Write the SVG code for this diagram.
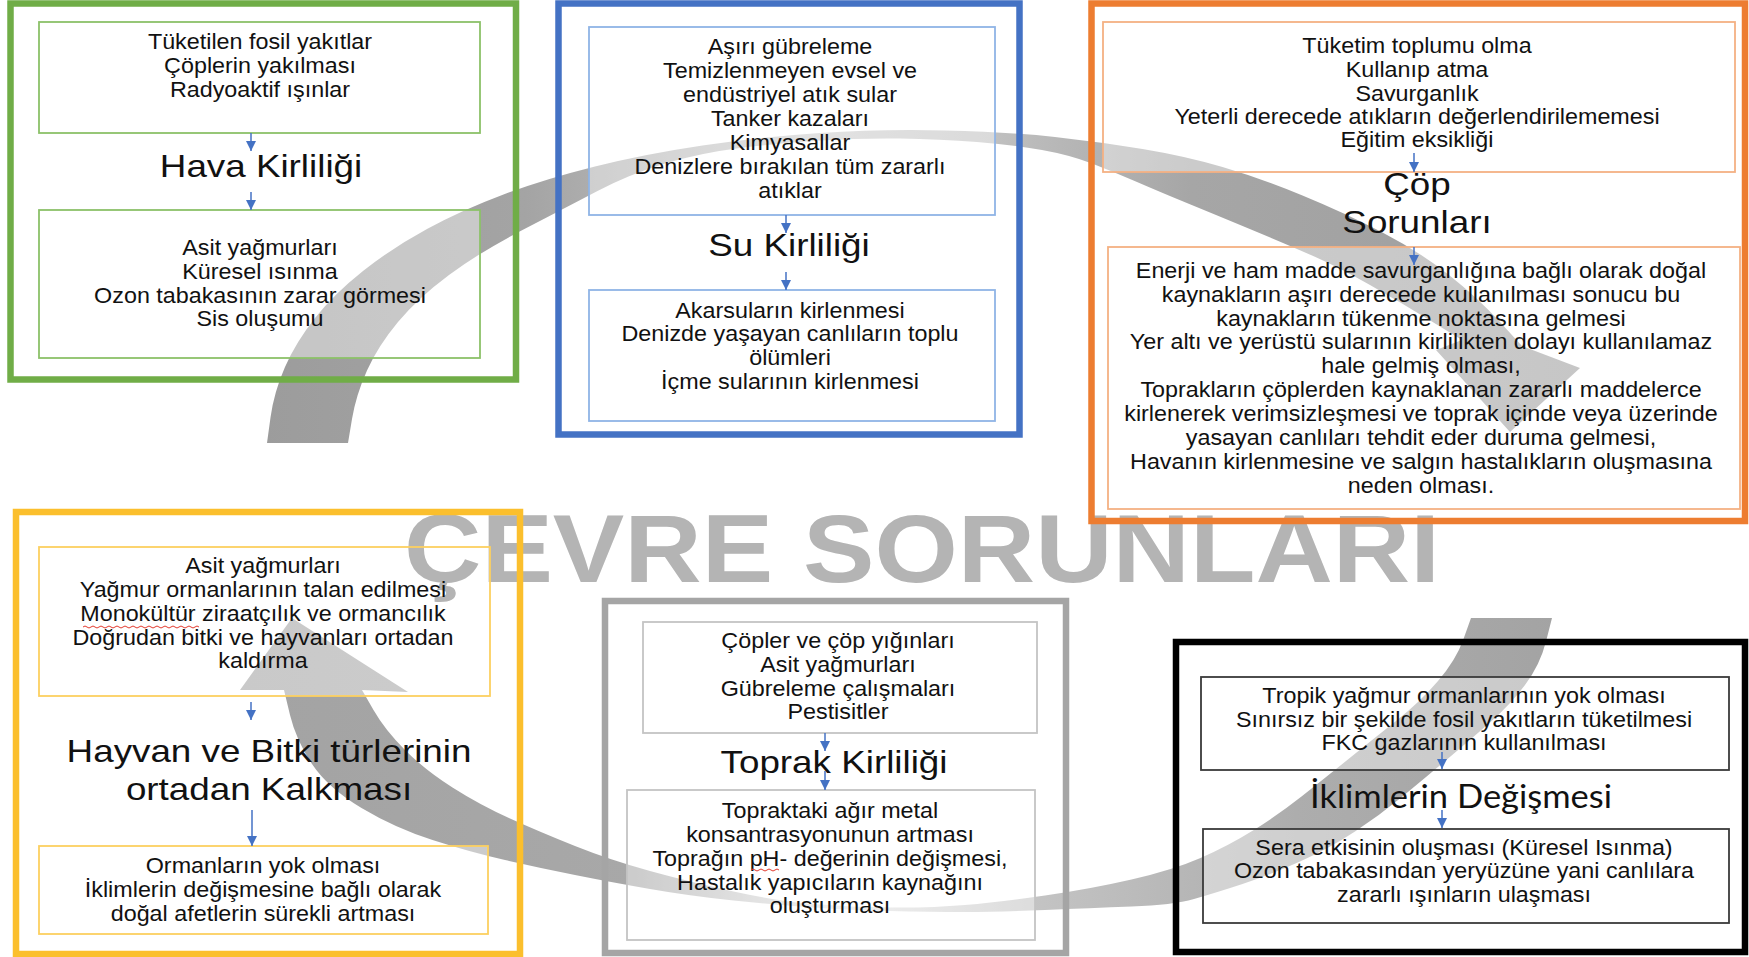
<svg xmlns="http://www.w3.org/2000/svg" width="1749" height="957" viewBox="0 0 1749 957">
<style>
.ob{fill:none;stroke-width:6.5}
.ib{fill:none;stroke-width:1.8}
.fl{fill:#fff;fill-opacity:.42;stroke:none}
.t{font-family:"Liberation Sans",Arial,Helvetica,sans-serif;font-size:21.5px;fill:#111;text-anchor:middle}
.h{font-family:"Liberation Sans",Arial,Helvetica,sans-serif;font-size:32px;fill:#111;text-anchor:middle}
.cn line{stroke:#4472c4;stroke-width:1.5;marker-end:url(#ah)}
.sq{fill:none;stroke:#e23a2e;stroke-width:1}
</style>
<defs>
<marker id="ah" markerWidth="11" markerHeight="10" refX="10" refY="5" orient="auto" markerUnits="userSpaceOnUse"><path d="M0,0 L10,5 L0,10 z" fill="#4472c4"/></marker>
<linearGradient id="gU" gradientUnits="userSpaceOnUse" x1="260" y1="0" x2="1590" y2="0">
<stop offset="0" stop-color="#9c9c9c"/><stop offset="0.2" stop-color="#a4a4a4"/><stop offset="0.42" stop-color="#cdcdcd"/><stop offset="0.55" stop-color="#c0c0c0"/><stop offset="0.7" stop-color="#a6a6a6"/><stop offset="1" stop-color="#9e9e9e"/>
</linearGradient>
<linearGradient id="gL" gradientUnits="userSpaceOnUse" x1="240" y1="0" x2="1560" y2="0">
<stop offset="0" stop-color="#a3a3a3"/><stop offset="0.3" stop-color="#a8a8a8"/><stop offset="0.45" stop-color="#e6e6e6"/><stop offset="0.6" stop-color="#c4c4c4"/><stop offset="0.8" stop-color="#adadad"/><stop offset="1" stop-color="#a3a3a3"/>
</linearGradient>
</defs>
<rect width="1749" height="957" fill="#fff"/>

<g id="swooshes">
<path fill="url(#gU)" d="M267,443 L270.5,417.5 Q274,392 285,367 Q296,342 315,318 Q334,294 363,271 Q392,248 427,229 Q462,210 503.5,194.5 Q545,179 595,166.5 Q645,154 702.5,145.5 Q760,137 820,133 Q880,129 945,130.5 Q1010,132 1055,137 Q1100,142 1142.5,149 Q1185,156 1222.5,167 Q1260,178 1302.5,195.5 Q1345,213 1382.5,232.5 Q1420,252 1449,275 Q1478,298 1500,322 L1522,346 L1580,368 L1510,432 L1436,350 L1462,340 L1431,321 Q1400,302 1370,285 Q1340,268 1316.5,257.5 Q1293,247 1257,232 Q1221,217 1190.5,204.5 Q1160,192 1137,182 Q1114,172 1092,163.5 Q1070,155 1042,150 Q1014,145 977,142 Q940,139 900,138.5 Q860,138 820,140.5 Q780,143 740,148 Q700,153 665,163.5 Q630,174 597.5,191 Q565,208 522.5,230 Q480,252 449,275 Q418,298 398,322 Q378,346 367,370.5 Q356,395 352,419 L348,443 Z"/>
<path fill="url(#gL)" d="M1471,618 L1463.5,639 Q1456,660 1438,681 Q1420,702 1396,721 Q1372,740 1348.5,759 Q1325,778 1301.5,796.5 Q1278,815 1253,830.5 Q1228,846 1200.5,858 Q1173,870 1131.5,879.5 Q1090,889 1045,895.5 Q1000,902 965,905 Q930,908 890,907.5 Q850,907 813.5,904 Q777,901 733.5,891.5 Q690,882 650,871 Q610,860 575,846 Q540,832 510,818.5 Q480,805 452.5,787.5 Q425,770 405,750 Q385,730 373.5,710 L362,690 L408,692 L292,618 L240,690 L284,690 L290,715 Q296,740 312,764 Q328,788 361.5,808 Q395,828 432.5,840 Q470,852 505,860 Q540,868 575,875 Q610,882 650,889 Q690,896 733.5,900.5 Q777,905 813.5,907.5 Q850,910 890,911 Q930,912 965,912 Q1000,912 1045,910 Q1090,908 1131.5,906.5 Q1173,905 1194,899 Q1215,893 1242.5,884 Q1270,875 1300,861.5 Q1330,848 1355,831.5 Q1380,815 1402.5,796.5 Q1425,778 1447.5,759 Q1470,740 1490,722.5 Q1510,705 1525,685 Q1540,665 1546,641.5 L1552,618 Z"/>
</g>

<g id="box-fills">
<rect class="fl" x="39" y="22" width="441" height="111"/>
<rect class="fl" x="39" y="210" width="441" height="148"/>
<rect class="fl" x="589" y="27" width="406" height="188"/>
<rect class="fl" x="589" y="290" width="406" height="131"/>
<rect class="fl" x="1103" y="22" width="632" height="150"/>
<rect class="fl" x="1108" y="247" width="632" height="262"/>
<rect class="fl" x="39" y="547" width="451" height="149"/>
<rect class="fl" x="39" y="846" width="449" height="88"/>
<rect class="fl" x="643" y="622" width="394" height="111"/>
<rect class="fl" x="627" y="790" width="408" height="150"/>
<rect class="fl" x="1201" y="677" width="528" height="93"/>
<rect class="fl" x="1203" y="829" width="526" height="94"/>
</g>

<text id="title" x="404" y="582" font-family="'Liberation Sans',Arial,Helvetica,sans-serif" font-weight="bold" font-size="96" fill="#b4b4b4" textLength="1036" lengthAdjust="spacingAndGlyphs">ÇEVRE SORUNLARI</text>

<g id="hava">
<rect class="ob" x="10.5" y="3.5" width="505.5" height="376" stroke="#70ad47"/>
<rect class="ib" x="39" y="22" width="441" height="111" stroke="#8cc169"/>
<rect class="ib" x="39" y="210" width="441" height="148" stroke="#8cc169"/>
<g transform="translate(260,0) scale(1.085,1)">
<text class="t" x="0" y="49">Tüketilen fosil yakıtlar</text>
<text class="t" x="0" y="73">Çöplerin yakılması</text>
<text class="t" x="0" y="97">Radyoaktif ışınlar</text>
</g>
<g transform="translate(261,0) scale(1.15,1)"><text class="h" x="0" y="177">Hava Kirliliği</text></g>
<g transform="translate(260,0) scale(1.085,1)">
<text class="t" x="0" y="255">Asit yağmurları</text>
<text class="t" x="0" y="279">Küresel ısınma</text>
<text class="t" x="0" y="303">Ozon tabakasının zarar görmesi</text>
<text class="t" x="0" y="326">Sis oluşumu</text>
</g>
</g>

<g id="su">
<rect class="ob" x="558.5" y="3.5" width="461" height="431" stroke="#4472c4"/>
<rect class="ib" x="589" y="27" width="406" height="188" stroke="#8fb4e6"/>
<rect class="ib" x="589" y="290" width="406" height="131" stroke="#8fb4e6"/>
<g transform="translate(790,0) scale(1.085,1)">
<text class="t" x="0" y="54">Aşırı gübreleme</text>
<text class="t" x="0" y="78">Temizlenmeyen evsel ve</text>
<text class="t" x="0" y="102">endüstriyel atık sular</text>
<text class="t" x="0" y="126">Tanker kazaları</text>
<text class="t" x="0" y="150">Kimyasallar</text>
<text class="t" x="0" y="174">Denizlere bırakılan tüm zararlı</text>
<text class="t" x="0" y="198">atıklar</text>
</g>
<g transform="translate(789,0) scale(1.15,1)"><text class="h" x="0" y="256">Su Kirliliği</text></g>
<g transform="translate(790,0) scale(1.085,1)">
<text class="t" x="0" y="318">Akarsuların kirlenmesi</text>
<text class="t" x="0" y="341">Denizde yaşayan canlıların toplu</text>
<text class="t" x="0" y="365">ölümleri</text>
<text class="t" x="0" y="389">İçme sularının kirlenmesi</text>
</g>
</g>

<g id="cop">
<rect class="ob" x="1091.5" y="3.5" width="653.5" height="517.5" stroke="#ed7d31"/>
<rect class="ib" x="1103" y="22" width="632" height="150" stroke="#f4b183"/>
<rect class="ib" x="1108" y="247" width="632" height="262" stroke="#f4b183"/>
<g transform="translate(1417,0) scale(1.085,1)">
<text class="t" x="0" y="53">Tüketim toplumu olma</text>
<text class="t" x="0" y="77">Kullanıp atma</text>
<text class="t" x="0" y="101">Savurganlık</text>
<text class="t" x="0" y="124">Yeterli derecede atıkların değerlendirilememesi</text>
<text class="t" x="0" y="147">Eğitim eksikliği</text>
</g>
<g transform="translate(1417,0) scale(1.15,1)">
<text class="h" x="0" y="195">Çöp</text>
<text class="h" x="0" y="233">Sorunları</text>
</g>
<g transform="translate(1421,0) scale(1.085,1)">
<text class="t" x="0" y="278">Enerji ve ham madde savurganlığına bağlı olarak doğal</text>
<text class="t" x="0" y="302">kaynakların aşırı derecede kullanılması sonucu bu</text>
<text class="t" x="0" y="326">kaynakların tükenme noktasına gelmesi</text>
<text class="t" x="0" y="349">Yer altı ve yerüstü sularının kirlilikten dolayı kullanılamaz</text>
<text class="t" x="0" y="373">hale gelmiş olması,</text>
<text class="t" x="0" y="397">Toprakların çöplerden kaynaklanan zararlı maddelerce</text>
<text class="t" x="0" y="421">kirlenerek verimsizleşmesi ve toprak içinde veya üzerinde</text>
<text class="t" x="0" y="445">yasayan canlıları tehdit eder duruma gelmesi,</text>
<text class="t" x="0" y="469">Havanın kirlenmesine ve salgın hastalıkların oluşmasına</text>
<text class="t" x="0" y="493">neden olması.</text>
</g>
</g>

<g id="hayvan">
<rect class="ob" x="16" y="512" width="504" height="442" stroke="#fbbf2d"/>
<rect class="ib" x="39" y="547" width="451" height="149" stroke="#fcd060"/>
<rect class="ib" x="39" y="846" width="449" height="88" stroke="#fcd060"/>
<g transform="translate(263,0) scale(1.085,1)">
<text class="t" x="0" y="573">Asit yağmurları</text>
<text class="t" x="0" y="597">Yağmur ormanlarının talan edilmesi</text>
<text class="t" x="0" y="621">Monokültür ziraatçılık ve ormancılık</text>
<text class="t" x="0" y="645">Doğrudan bitki ve hayvanları ortadan</text>
<text class="t" x="0" y="668">kaldırma</text>
</g>
<path class="sq" d="M83,627 q2,-2 4,0 t4,0 t4,0 t4,0 t4,0 t4,0 t4,0 t4,0 t4,0 t4,0 t4,0 t4,0 t4,0 t4,0 t4,0 t4,0 t4,0 t4,0 t4,0 t4,0 t4,0 t4,0 t4,0 t4,0 t4,0 t4,0 t4,0 t4,0 t4,0"/>
<g transform="translate(269,0) scale(1.15,1)">
<text class="h" x="0" y="762">Hayvan ve Bitki türlerinin</text>
<text class="h" x="0" y="800">ortadan Kalkması</text>
</g>
<g transform="translate(263,0) scale(1.085,1)">
<text class="t" x="0" y="873">Ormanların yok olması</text>
<text class="t" x="0" y="897">İklimlerin değişmesine bağlı olarak</text>
<text class="t" x="0" y="921">doğal afetlerin sürekli artması</text>
</g>
</g>

<g id="toprak">
<rect class="ob" x="605" y="601" width="461" height="352" stroke="#a5a5a5"/>
<rect class="ib" x="643" y="622" width="394" height="111" stroke="#c4c4c4"/>
<rect class="ib" x="627" y="790" width="408" height="150" stroke="#c4c4c4"/>
<g transform="translate(838,0) scale(1.085,1)">
<text class="t" x="0" y="648">Çöpler ve çöp yığınları</text>
<text class="t" x="0" y="672">Asit yağmurları</text>
<text class="t" x="0" y="696">Gübreleme çalışmaları</text>
<text class="t" x="0" y="719">Pestisitler</text>
</g>
<g transform="translate(834,0) scale(1.15,1)"><text class="h" x="0" y="773">Toprak Kirliliği</text></g>
<g transform="translate(830,0) scale(1.085,1)">
<text class="t" x="0" y="818">Topraktaki ağır metal</text>
<text class="t" x="0" y="842">konsantrasyonunun artması</text>
<text class="t" x="0" y="866">Toprağın pH- değerinin değişmesi,</text>
<text class="t" x="0" y="890">Hastalık yapıcıların kaynağını</text>
<text class="t" x="0" y="913">oluşturması</text>
</g>
<path class="sq" d="M751,870 q2,-2 4,0 t4,0 t4,0 t4,0 t4,0 t4,0 t4,0"/>
</g>

<g id="iklim">
<rect class="ob" x="1176" y="642" width="569" height="310" stroke="#000"/>
<rect class="ib" x="1201" y="677" width="528" height="93" stroke="#3a3a3a"/>
<rect class="ib" x="1203" y="829" width="526" height="94" stroke="#3a3a3a"/>
<g transform="translate(1464,0) scale(1.085,1)">
<text class="t" x="0" y="703">Tropik yağmur ormanlarının yok olması</text>
<text class="t" x="0" y="727">Sınırsız bir şekilde fosil yakıtların tüketilmesi</text>
<text class="t" x="0" y="750">FKC gazlarının kullanılması</text>
</g>
<text x="1310" y="808" font-family="Lato,'Open Sans',sans-serif" font-size="33" fill="#111" textLength="302" lengthAdjust="spacingAndGlyphs">İklimlerin Değişmesi</text>
<g transform="translate(1464,0) scale(1.085,1)">
<text class="t" x="0" y="855">Sera etkisinin oluşması (Küresel Isınma)</text>
<text class="t" x="0" y="878">Ozon tabakasından yeryüzüne yani canlılara</text>
<text class="t" x="0" y="902">zararlı ışınların ulaşması</text>
</g>
</g>

<g id="connectors" class="cn">
<line x1="251" y1="133" x2="251" y2="151"/>
<line x1="251" y1="192" x2="251" y2="210"/>
<line x1="786" y1="215" x2="786" y2="233"/>
<line x1="786" y1="272" x2="786" y2="290"/>
<line x1="1414" y1="153" x2="1414" y2="172"/>
<line x1="1414" y1="247" x2="1414" y2="265"/>
<line x1="251" y1="702" x2="251" y2="720"/>
<line x1="252" y1="810" x2="252" y2="846"/>
<line x1="825" y1="733" x2="825" y2="751"/>
<line x1="825" y1="771" x2="825" y2="790"/>
<line x1="1442" y1="752" x2="1442" y2="769"/>
<line x1="1442" y1="810" x2="1442" y2="828"/>
</g>
</svg>
